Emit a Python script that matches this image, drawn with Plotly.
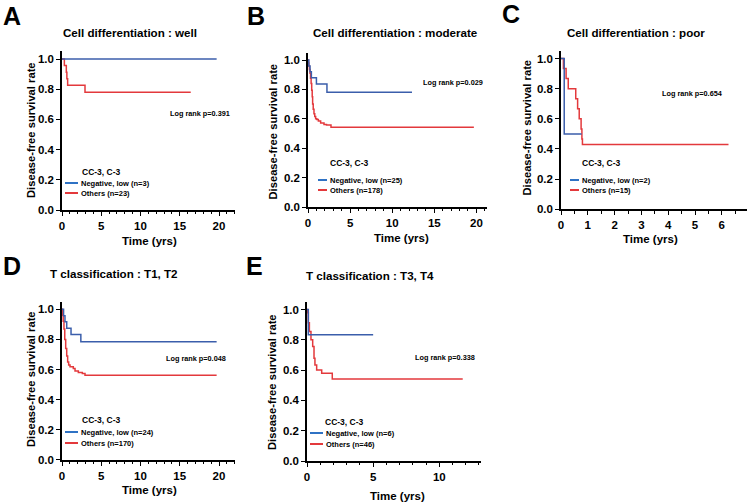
import plotly.graph_objects as go

# ---------------- data ----------------
legend_title = "CC-3, C-3"

A_title = "Cell differentiation : well"
A_neg_t = [0, 19.7]
A_neg_s = [1.0, 1.0]
A_oth_t = [0, 0.3, 0.55, 0.62, 0.72, 2.93, 16.4]
A_oth_s = [1.0, 0.957, 0.913, 0.870, 0.826, 0.780, 0.780]
A_labels = ["Negative, low (n=3)", "Others (n=23)"]
A_p = "Log rank p=0.391"

B_title = "Cell differentiation : moderate"
B_neg_t = [0, 0.1, 0.24, 0.4, 1.0, 2.25, 12.35]
B_neg_s = [1.0, 0.96, 0.92, 0.88, 0.836, 0.78, 0.78]
B_oth_t = [0, 0.05, 0.1, 0.17, 0.24, 0.3, 0.37, 0.44, 0.5, 0.55, 0.62, 0.71,
           0.8, 0.91, 1.05, 1.23, 1.5, 1.9, 2.2, 2.73, 19.7]
B_oth_s = [1.0, 0.98, 0.96, 0.935, 0.91, 0.875, 0.84, 0.795, 0.75, 0.70, 0.665, 0.635,
           0.615, 0.60, 0.595, 0.585, 0.571, 0.562, 0.557, 0.543, 0.543]
B_labels = ["Negative, low (n=25)", "Others (n=178)"]
B_p = "Log rank p=0.029"

C_title = "Cell differentiation : poor"
C_neg_t = [0, 0.12, 0.77]
C_neg_s = [1.0, 0.5, 0.5]
C_oth_t = [0, 0.09, 0.19, 0.27, 0.55, 0.62, 0.68, 0.75, 0.78, 0.80, 6.25]
C_oth_s = [1.0, 0.933, 0.867, 0.8, 0.733, 0.667, 0.6, 0.533, 0.467, 0.43, 0.43]
C_labels = ["Negative, low (n=2)", "Others (n=15)"]
C_p = "Log rank p=0.654"

D_title = "T classification : T1, T2"
D_neg_t = [0, 0.2, 0.38, 0.6, 1.15, 2.4, 19.7]
D_neg_s = [1.0, 0.958, 0.917, 0.875, 0.833, 0.785, 0.785]
D_oth_t = [0, 0.05, 0.15, 0.25, 0.35, 0.47, 0.6, 0.72, 0.85, 1.02, 1.44, 1.66,
           2.08, 2.59, 2.93, 19.7]
D_oth_s = [1.0, 0.96, 0.92, 0.87, 0.80, 0.74, 0.69, 0.65, 0.63, 0.618, 0.607, 0.59,
           0.58, 0.574, 0.563, 0.563]
D_labels = ["Negative, low (n=24)", "Others (n=170)"]
D_p = "Log rank p=0.048"

E_title = "T classification : T3, T4"
E_neg_t = [0, 0.1, 5.0]
E_neg_s = [1.0, 0.833, 0.833]
E_oth_t = [0, 0.03, 0.1, 0.18, 0.3, 0.43, 0.53, 0.6, 0.73, 1.11, 1.91, 11.77]
E_oth_s = [1.0, 0.978, 0.913, 0.854, 0.80, 0.755, 0.678, 0.634, 0.60, 0.579, 0.541, 0.541]
E_labels = ["Negative, low (n=6)", "Others (n=46)"]
E_p = "Log rank p=0.338"

x_title = "Time (yrs)"
y_title = "Disease-free survival rate"

# ---------------- layout geometry (pixels) ----------------
W, H = 749, 502
FONT = "Liberation Sans, Arial, sans-serif"
BLUE = "#3b5eab"
RED = "#e3393c"
LBLUE = "#2f72c4"


def fx(p):
    return p / W


def fy(p):
    return 1 - p / H


panels = [
    dict(letter="A", title=A_title, neg=(A_neg_t, A_neg_s), oth=(A_oth_t, A_oth_s),
         labels=A_labels, p=A_p, x0=62, xs=7.85, xmax=22, y0=210, ys=151,
         dtick=5, minor=1, letter_xy=(12, 16), title_xy=(130, 33), ytitle_xy=(31, 130),
         xtitle_xy=(149, 241), p_xy=(232, 113), leg=(65, 78, 80, 172, 183, 193)),
    dict(letter="B", title=B_title, neg=(B_neg_t, B_neg_s), oth=(B_oth_t, B_oth_s),
         labels=B_labels, p=B_p, x0=308, xs=8.42, xmax=21.3, y0=207, ys=147,
         dtick=5, minor=1, letter_xy=(256, 16), title_xy=(395, 33), ytitle_xy=(272.5, 132),
         xtitle_xy=(401, 238), p_xy=(485, 83), leg=(318, 327, 328, 163, 180, 190)),
    dict(letter="C", title=C_title, neg=(C_neg_t, C_neg_s), oth=(C_oth_t, C_oth_s),
         labels=C_labels, p=C_p, x0=561, xs=26.8, xmax=6.95, y0=209.3, ys=150.8,
         dtick=1, minor=0.5, letter_xy=(511, 14), title_xy=(636, 33), ytitle_xy=(526.5, 128),
         xtitle_xy=(650, 239), p_xy=(725, 93), leg=(570, 579, 580, 163, 180, 190)),
    dict(letter="D", title=D_title, neg=(D_neg_t, D_neg_s), oth=(D_oth_t, D_oth_s),
         labels=D_labels, p=D_p, x0=62, xs=7.85, xmax=22, y0=460, ys=150.7,
         dtick=5, minor=1, letter_xy=(12, 266), title_xy=(114, 273), ytitle_xy=(31, 379),
         xtitle_xy=(149, 490), p_xy=(228, 358), leg=(65, 78, 80, 420, 432, 443)),
    dict(letter="E", title=E_title, neg=(E_neg_t, E_neg_s), oth=(E_oth_t, E_oth_s),
         labels=E_labels, p=E_p, x0=307, xs=13.23, xmax=13.15, y0=461, ys=151.5,
         dtick=5, minor=1, letter_xy=(255, 266), title_xy=(370, 275), ytitle_xy=(272, 382),
         xtitle_xy=(397, 496), p_xy=(477, 357), leg=(310, 323, 323, 422, 433, 444)),
]

fig = go.Figure()
layout = dict(width=W, height=H, margin=dict(l=0, r=0, t=0, b=0, autoexpand=False),
              paper_bgcolor="white", plot_bgcolor="white", showlegend=False)
annotations = []
shapes = []

for i, pn in enumerate(panels):
    k = "" if i == 0 else str(i + 1)
    xa, ya = "x" + k, "y" + k
    YMAX = 1.05
    xdom = [fx(pn["x0"]), fx(pn["x0"] + pn["xmax"] * pn["xs"])]
    ydom = [fy(pn["y0"]), fy(pn["y0"] - YMAX * pn["ys"])]
    axis_common = dict(showline=True, linecolor="black", linewidth=1.5,
                       ticks="outside", ticklen=4, tickwidth=1.4, tickcolor="black",
                       showgrid=False, zeroline=False, automargin=False,
                       tickfont=dict(family=FONT, size=11.5, color="black", weight="bold"))
    layout["xaxis" + k] = dict(axis_common, domain=xdom, range=[0, pn["xmax"]],
                               anchor=ya, tick0=0, dtick=pn["dtick"],
                               minor=dict(dtick=pn["minor"], tick0=0, ticks="outside",
                                          ticklen=2.5, tickwidth=1, tickcolor="black"))
    layout["yaxis" + k] = dict(axis_common, domain=ydom, range=[0, YMAX],
                               anchor=xa, tick0=0, dtick=0.2, tickformat=".1f")

    fig.add_trace(go.Scatter(x=pn["oth"][0], y=pn["oth"][1], mode="lines",
                             line=dict(color=RED, width=1.5, shape="hv"),
                             xaxis=xa, yaxis=ya, name=pn["labels"][1]))
    fig.add_trace(go.Scatter(x=pn["neg"][0], y=pn["neg"][1], mode="lines",
                             line=dict(color=BLUE, width=1.5, shape="hv"),
                             xaxis=xa, yaxis=ya, name=pn["labels"][0]))

    lx, ly = pn["letter_xy"]
    annotations.append(dict(text=pn["letter"], x=fx(lx), y=fy(ly), xref="paper", yref="paper",
                            showarrow=False, xanchor="center", yanchor="middle",
                            font=dict(family=FONT, size=25, color="black", weight="bold")))
    tx, ty = pn["title_xy"]
    annotations.append(dict(text=pn["title"], x=fx(tx), y=fy(ty), xref="paper", yref="paper",
                            showarrow=False, xanchor="center", yanchor="middle",
                            font=dict(family=FONT, size=11.6, color="black", weight="bold")))
    yx, yy = pn["ytitle_xy"]
    annotations.append(dict(text=y_title, x=fx(yx), y=fy(yy), xref="paper", yref="paper",
                            showarrow=False, xanchor="center", yanchor="middle", textangle=-90,
                            font=dict(family=FONT, size=11.2, color="black", weight="bold")))
    xx, xy = pn["xtitle_xy"]
    annotations.append(dict(text=x_title, x=fx(xx), y=fy(xy), xref="paper", yref="paper",
                            showarrow=False, xanchor="center", yanchor="middle",
                            font=dict(family=FONT, size=11.5, color="black", weight="bold")))
    px_, py_ = pn["p_xy"]
    annotations.append(dict(text=pn["p"], x=fx(px_), y=fy(py_), xref="paper", yref="paper",
                            showarrow=False, xanchor="right", yanchor="middle",
                            font=dict(family=FONT, size=7.3, color="black", weight="bold")))
    lx0, lx1, ltx, lhy, l1y, l2y = pn["leg"]
    annotations.append(dict(text=legend_title, x=fx(ltx), y=fy(lhy), xref="paper", yref="paper",
                            showarrow=False, xanchor="left", yanchor="middle",
                            font=dict(family=FONT, size=8.5, color="black", weight="bold")))
    for lab, yy_, col in [(pn["labels"][0], l1y, LBLUE), (pn["labels"][1], l2y, RED)]:
        shapes.append(dict(type="line", xref="paper", yref="paper",
                           x0=fx(lx0), x1=fx(lx1), y0=fy(yy_), y1=fy(yy_),
                           line=dict(color=col, width=2)))
        annotations.append(dict(text=lab, x=fx(lx1 + 1), y=fy(yy_), xref="paper", yref="paper",
                                showarrow=False, xanchor="left", yanchor="middle",
                                font=dict(family=FONT, size=7.5, color="black", weight="bold")))

layout["annotations"] = annotations
layout["shapes"] = shapes
fig.update_layout(**layout)
fig.write_html("out.html", config={"displayModeBar": False},
               post_script="document.body.style.margin='0';document.body.style.padding='0';")
